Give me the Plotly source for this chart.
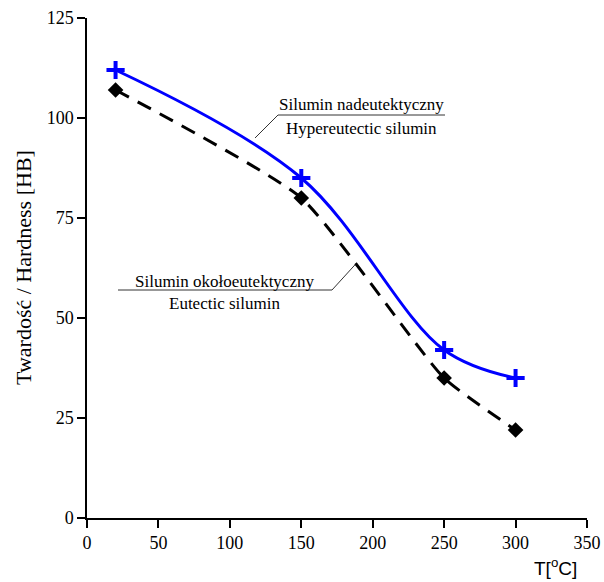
import plotly.graph_objects as go

temps = [20, 150, 250, 300]
hyper = [112, 85, 42, 35]
eutectic = [107, 80, 35, 22]
x_ticks = [0, 50, 100, 150, 200, 250, 300, 350]
y_ticks = [0, 25, 50, 75, 100, 125]

fig = go.Figure()
fig.add_trace(go.Scatter(
    x=temps, y=eutectic, mode="lines+markers",
    line=dict(color="black", width=3, dash="15px,10px", shape="spline", smoothing=0.5),
    marker=dict(symbol="diamond", size=12, color="black"),
    name="Eutectic silumin", cliponaxis=False))
fig.add_trace(go.Scatter(
    x=temps, y=hyper, mode="lines+markers",
    line=dict(color="#0000ff", width=3, shape="spline", smoothing=1),
    marker=dict(symbol="cross-thin", size=13, color="#0000ff",
                line=dict(color="#0000ff", width=4)),
    name="Hypereutectic silumin", cliponaxis=False))

serif = "Liberation Serif, Times New Roman, serif"
ann_font = dict(family=serif, size=17, color="black")

# annotation text
fig.add_annotation(x=191.8, y=103.4, text="Silumin nadeutektyczny", showarrow=False,
                   font=ann_font, xanchor="center", yanchor="middle")
fig.add_annotation(x=191.8, y=97.4, text="Hypereutectic silumin", showarrow=False,
                   font=ann_font, xanchor="center", yanchor="middle")
fig.add_annotation(x=96.3, y=59.2, text="Silumin okołoeutektyczny", showarrow=False,
                   font=ann_font, xanchor="center", yanchor="middle")
fig.add_annotation(x=96.3, y=53.6, text="Eutectic silumin", showarrow=False,
                   font=ann_font, xanchor="center", yanchor="middle")

# underlines and leader lines
lc = dict(color="#333333", width=1)
fig.add_shape(type="line", x0=133.7, x1=250.6, y0=100.75, y1=100.75, line=lc)
fig.add_shape(type="line", x0=133.7, x1=117.6, y0=100.75, y1=95.0, line=lc)
fig.add_shape(type="line", x0=21.7, x1=171.5, y0=57.0, y1=57.0, line=lc)
fig.add_shape(type="line", x0=171.5, x1=187.6, y0=57.0, y1=63.3, line=lc)

# axis titles as annotations
fig.add_annotation(xref="paper", yref="paper", x=0.936, y=-0.098, xanchor="center", yanchor="middle",
                   text="T[<sup>o</sup>C]", showarrow=False,
                   font=dict(family="Liberation Sans, Arial, sans-serif", size=19, color="black"))
fig.add_annotation(xref="paper", yref="paper", x=-0.128, y=0.5, xanchor="center", yanchor="middle",
                   text="Twardość / Hardness [HB]", textangle=-90, showarrow=False,
                   font=dict(family=serif, size=22, color="black"))

fig.update_layout(
    width=604, height=582,
    margin=dict(l=87, r=17, t=18, b=64, autoexpand=False),
    paper_bgcolor="white", plot_bgcolor="white",
    showlegend=False,
    font=dict(family=serif, size=18, color="black"),
    xaxis=dict(range=[0, 350], tickvals=x_ticks, ticks="outside", ticklen=8, tickwidth=1.5,
               tickcolor="black", showline=True, linecolor="black", linewidth=1.5,
               showgrid=False, zeroline=False, tickfont=dict(family=serif, size=18),
               automargin=False),
    yaxis=dict(range=[0, 125], tickvals=y_ticks, ticks="outside", ticklen=8, tickwidth=1.5,
               tickcolor="black", showline=True, linecolor="black", linewidth=1.5,
               showgrid=False, zeroline=False, tickfont=dict(family=serif, size=18),
               automargin=False),
)

fig.write_html("out.html", config={"displayModeBar": False},
               post_script="document.body.style.margin='0';document.body.style.overflow='hidden';")
